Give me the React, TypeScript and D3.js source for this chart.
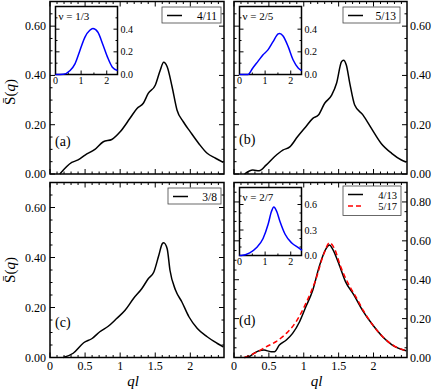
import React from "react";
import * as d3 from "d3";

// main curves, ql vs S(q)
const qA = [0.14, 0.31, 0.4, 0.5, 0.64, 0.76, 0.88, 1.0, 1.14, 1.24, 1.33, 1.4, 1.5, 1.57, 1.62, 1.67, 1.74, 1.81, 1.9, 2.0, 2.12, 2.24, 2.36, 2.47];
const sA = [0, 0.047, 0.057, 0.077, 0.1, 0.131, 0.14, 0.171, 0.226, 0.266, 0.287, 0.327, 0.36, 0.42, 0.453, 0.435, 0.354, 0.26, 0.212, 0.171, 0.124, 0.084, 0.064, 0.047];

const qB = [0.15, 0.27, 0.36, 0.46, 0.58, 0.7, 0.8, 0.91, 1.03, 1.13, 1.21, 1.3, 1.4, 1.47, 1.54, 1.57, 1.61, 1.66, 1.73, 1.85, 1.97, 2.11, 2.26, 2.4, 2.47];
const sB = [0, 0.016, 0.013, 0.036, 0.07, 0.097, 0.11, 0.151, 0.192, 0.226, 0.239, 0.287, 0.32, 0.368, 0.455, 0.462, 0.442, 0.368, 0.28, 0.239, 0.185, 0.124, 0.084, 0.057, 0.049];

const qC = [0.19, 0.33, 0.48, 0.6, 0.71, 0.83, 0.95, 1.07, 1.19, 1.31, 1.4, 1.48, 1.55, 1.6, 1.62, 1.67, 1.71, 1.79, 1.88, 1.98, 2.1, 2.24, 2.38, 2.47];
const sC = [0, 0.017, 0.059, 0.076, 0.103, 0.125, 0.156, 0.189, 0.236, 0.276, 0.315, 0.342, 0.408, 0.455, 0.459, 0.435, 0.349, 0.269, 0.222, 0.163, 0.116, 0.083, 0.057, 0.042];

const qD1 = [0.15, 0.22, 0.29, 0.36, 0.43, 0.53, 0.58, 0.65, 0.75, 0.84, 0.94, 1.03, 1.13, 1.22, 1.32, 1.37, 1.41, 1.51, 1.6, 1.72, 1.84, 1.99, 2.13, 2.27, 2.47];
const sD1 = [0, 0.005, 0.022, 0.035, 0.038, 0.03, 0.03, 0.064, 0.09, 0.124, 0.184, 0.261, 0.347, 0.466, 0.56, 0.578, 0.56, 0.475, 0.389, 0.321, 0.244, 0.167, 0.107, 0.064, 0.035];
const qD2 = [0.15, 0.22, 0.31, 0.46, 0.6, 0.75, 0.89, 1.03, 1.17, 1.29, 1.37, 1.44, 1.53, 1.65, 1.75, 1.86, 2.0, 2.14, 2.28, 2.47];
const sD2 = [0, 0.01, 0.025, 0.055, 0.081, 0.124, 0.184, 0.278, 0.398, 0.535, 0.59, 0.56, 0.466, 0.372, 0.31, 0.238, 0.162, 0.104, 0.063, 0.035];

// insets (blue)
const qIa = [0, 0.3, 0.57, 0.76, 0.95, 1.15, 1.34, 1.46, 1.65, 1.84, 2.03, 2.22, 2.42];
const sIa = [0, 0.002, 0.035, 0.094, 0.21, 0.33, 0.39, 0.405, 0.375, 0.27, 0.153, 0.064, 0.035];
const qIb = [0, 0.33, 0.52, 0.72, 0.92, 1.11, 1.31, 1.51, 1.57, 1.7, 1.9, 2.09, 2.29, 2.42];
const sIb = [0, 0, 0.058, 0.116, 0.174, 0.217, 0.29, 0.358, 0.362, 0.34, 0.246, 0.13, 0.058, 0.035];
const qId = [0, 0.07, 0.4, 0.66, 0.92, 1.12, 1.25, 1.34, 1.45, 1.58, 1.78, 2.04, 2.31, 2.44];
const sId = [0, 0, 0.03, 0.09, 0.2, 0.37, 0.52, 0.57, 0.52, 0.4, 0.25, 0.146, 0.09, 0.06];

const xMajor = [0, 0.5, 1, 1.5, 2];
const xLabels = ["0", "0.5", "1", "1.5", "2"];
const insetXMajor = [0, 1, 2];

const FONT = "Liberation Serif, Times New Roman, DejaVu Serif, serif";

type Series = { q: number[]; s: number[]; color: string; dash?: string; label: string };
type Inset = { q: number[]; s: number[]; yMax: number; yStep: number; nu: string };

function Panel(props: {
  x0: number; x1: number; y0: number; y1: number; yMax: number;
  series: Series[]; tag: string; yLabelsSide: "left" | "right"; showX: boolean;
  inset?: Inset; legend: { x: number; y: number; w: number };
}) {
  const { x0, x1, y0, y1, yMax, series, tag, yLabelsSide, showX, inset, legend } = props;
  const x = d3.scaleLinear().domain([0, 2.48]).range([x0, x1]);
  const y = d3.scaleLinear().domain([0, yMax]).range([y1, y0]);
  const yMajor = d3.range(0, yMax + 0.001, 0.2);
  const yMinor = d3.range(0, yMax + 0.001, 0.05);
  const xMinor = d3.range(0, 2.481, 0.1);
  const line = d3.line<number>().curve(d3.curveMonotoneX);

  const ticks: React.ReactElement[] = [];
  xMinor.forEach((v, i) => {
    const major = xMajor.some((m) => Math.abs(m - v) < 1e-6);
    const L = major ? 5 : 2.5;
    ticks.push(<line key={"xb" + i} x1={x(v)} x2={x(v)} y1={y1} y2={y1 - L} />);
    ticks.push(<line key={"xt" + i} x1={x(v)} x2={x(v)} y1={y0} y2={y0 + L} />);
  });
  yMinor.forEach((v, i) => {
    const major = Math.abs(v / 0.2 - Math.round(v / 0.2)) < 1e-6;
    const L = major ? 5 : 2.5;
    ticks.push(<line key={"yl" + i} x1={x0} x2={x0 + L} y1={y(v)} y2={y(v)} />);
    ticks.push(<line key={"yr" + i} x1={x1} x2={x1 - L} y1={y(v)} y2={y(v)} />);
  });

  let insetEl = null;
  if (inset) {
    const ix0 = x0 + 5.5, ix1 = x0 + 67.5, iy0 = y0 + 5, iy1 = y0 + 73;
    const ixs = d3.scaleLinear().domain([0, 2.42]).range([ix0, ix1]);
    const iys = d3.scaleLinear().domain([0, inset.yMax]).range([iy1, iy0]);
    const iyTicks = d3.range(0, inset.yMax + 0.001, 0.1);
    const ilabels = d3.range(0, inset.yMax - 0.05, inset.yStep);
    const il = d3.line<number>().curve(d3.curveMonotoneX);
    insetEl = (
      <g>
        <rect x={ix0} y={iy0} width={ix1 - ix0} height={iy1 - iy0} fill="white" stroke="black" strokeWidth={1.5} />
        <g stroke="black" strokeWidth={1}>
          {d3.range(0, 2.42, 0.5).map((v, i) => {
            const L = Math.abs(v - Math.round(v)) < 1e-6 ? 4 : 2;
            return <line key={"ix" + i} x1={ixs(v)} x2={ixs(v)} y1={iy1} y2={iy1 - L} />;
          })}
          {iyTicks.map((v, i) => {
            const major = ilabels.some((m) => Math.abs(m - v) < 1e-6);
            const L = major ? 4 : 2;
            return (
              <g key={"iy" + i}>
                <line x1={ix0} x2={ix0 + L} y1={iys(v)} y2={iys(v)} />
                <line x1={ix1} x2={ix1 - L} y1={iys(v)} y2={iys(v)} />
              </g>
            );
          })}
        </g>
        <path d={il(inset.q.map((q, i) => [ixs(q), iys(inset.s[i])]) as any) || ""} fill="none" stroke="#0000ff" strokeWidth={1.5} />
        {insetXMajor.map((v) => (
          <text key={"ixl" + v} x={ixs(v)} y={iy1 + 9} fontSize={10} textAnchor="middle" style={{ fontFamily: FONT }}>{v}</text>
        ))}
        {ilabels.map((v) => (
          <text key={"iyl" + v} x={ix1 + 3} y={iys(v) + 3.5} fontSize={10} style={{ fontFamily: FONT }}>{v.toFixed(1)}</text>
        ))}
        <text x={ix0 + 3} y={iy0 + 13} fontSize={11} style={{ fontFamily: FONT }}>{inset.nu}</text>
      </g>
    );
  }

  const lh = 11.5;
  const lgH = 16 + (series.length - 1) * (lh + 2);

  return (
    <g>
      {series.map((s, k) => (
        <path key={"c" + k} d={line(s.q.map((q, i) => [x(q), y(s.s[i])]) as any) || ""} fill="none" stroke={s.color} strokeWidth={1.5} strokeDasharray={s.dash} />
      ))}
      <g stroke="black" strokeWidth={1}>{ticks}</g>
      <rect x={x0} y={y0} width={x1 - x0} height={y1 - y0} fill="none" stroke="black" strokeWidth={1.5} />
      {insetEl}
      <rect x={legend.x} y={legend.y} width={legend.w} height={lgH} fill="white" stroke="#444" strokeWidth={0.8} />
      {series.map((s, k) => (
        <g key={"lg" + k}>
          <line x1={legend.x + 5} x2={legend.x + 20} y1={legend.y + 8.5 + k * lh} y2={legend.y + 8.5 + k * lh} stroke={s.color} strokeWidth={1.5} strokeDasharray={s.dash} />
          <text x={legend.x + legend.w - 4} y={legend.y + 12.5 + k * lh} fontSize={series.length > 1 ? 10.5 : 11.5} textAnchor="end" style={{ fontFamily: FONT }}>{s.label}</text>
        </g>
      ))}
      {yMajor.map((v) => (
        <text key={"yl" + v} x={yLabelsSide === "left" ? x0 - 4 : x1 + 3} y={y(v) + 4} fontSize={12} textAnchor={yLabelsSide === "left" ? "end" : "start"} style={{ fontFamily: FONT }}>{v.toFixed(2)}</text>
      ))}
      {showX && xMajor.map((v, i) => (
        <text key={"xl" + v} x={x(v)} y={y1 + 12} fontSize={12} textAnchor="middle" style={{ fontFamily: FONT }}>{xLabels[i]}</text>
      ))}
      {showX && (
        <text x={(x0 + x1) / 2 - 4} y={y1 + 28} fontSize={15} fontStyle="italic" textAnchor="middle" style={{ fontFamily: FONT }}>ql</text>
      )}
      <text x={x0 + 5} y={(yLabelsSide === "left" ? y0 + 144 : y0 + 142)} fontSize={14} style={{ fontFamily: FONT }}>{tag}</text>
    </g>
  );
}

function YTitle({ cy }: { cy: number }) {
  return (
    <text transform={`translate(15,${cy}) rotate(-90)`} fontSize={15} textAnchor="middle" style={{ fontFamily: FONT }}>
      {"S\u0304("}<tspan fontStyle="italic">q</tspan>{")"}
    </text>
  );
}

export default function App() {
  const L0 = 50, L1 = 224, R0 = 234, R1 = 407;
  const T0 = 1.5, T1 = 174, B0 = 182.5, B1 = 357.5;
  return (
    <svg width={436} height={392} style={{ display: "block", position: "absolute", left: 0, top: 0, background: "white" }}>
      <YTitle cy={92} />
      <YTitle cy={270} />
      <Panel x0={L0} x1={L1} y0={T0} y1={T1} yMax={0.7} tag="(a)" yLabelsSide="left" showX={false}
        series={[{ q: qA, s: sA, color: "black", label: "4/11" }]}
        inset={{ q: qIa, s: sIa, yMax: 0.6, yStep: 0.2, nu: "\u03bd = 1/3" }}
        legend={{ x: 162, y: 7, w: 59 }} />
      <Panel x0={R0} x1={R1} y0={T0} y1={T1} yMax={0.7} tag="(b)" yLabelsSide="right" showX={false}
        series={[{ q: qB, s: sB, color: "black", label: "5/13" }]}
        inset={{ q: qIb, s: sIb, yMax: 0.6, yStep: 0.2, nu: "\u03bd = 2/5" }}
        legend={{ x: 343, y: 7, w: 57 }} />
      <Panel x0={L0} x1={L1} y0={B0} y1={B1} yMax={0.7} tag="(c)" yLabelsSide="left" showX={true}
        series={[{ q: qC, s: sC, color: "black", label: "3/8" }]}
        legend={{ x: 168, y: 188, w: 53 }} />
      <Panel x0={R0} x1={R1} y0={B0} y1={B1} yMax={0.9} tag="(d)" yLabelsSide="right" showX={true}
        series={[
          { q: qD1, s: sD1, color: "black", label: "4/13" },
          { q: qD2, s: sD2, color: "#ff0000", dash: "5,3", label: "5/17" },
        ]}
        inset={{ q: qId, s: sId, yMax: 0.8, yStep: 0.3, nu: "\u03bd = 2/7" }}
        legend={{ x: 343, y: 186, w: 58 }} />
    </svg>
  );
}
